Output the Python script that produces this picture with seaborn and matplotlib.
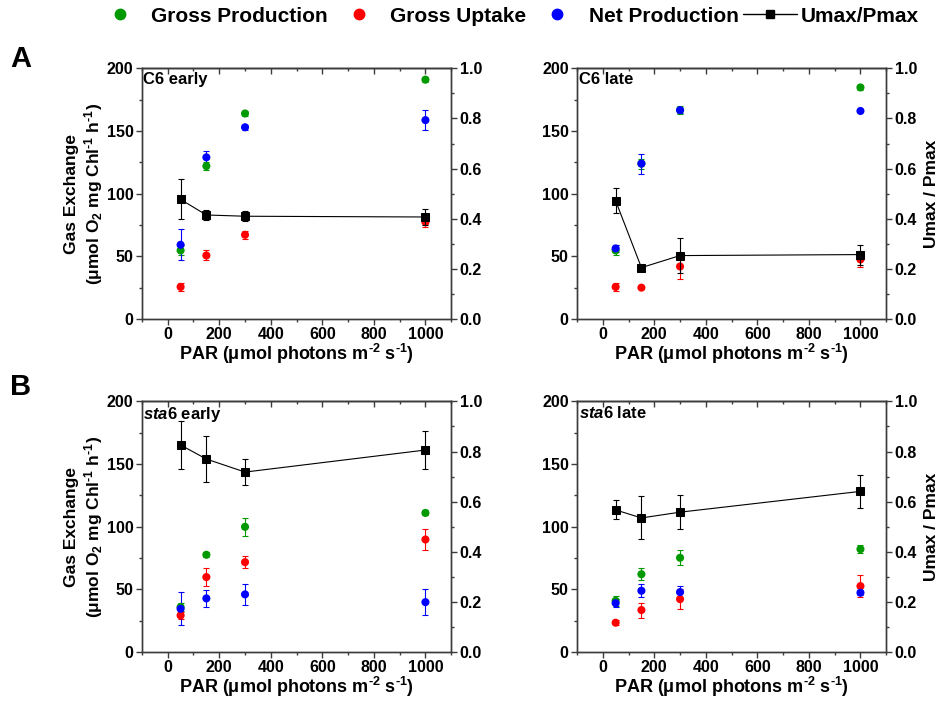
import matplotlib
matplotlib.use("Agg")
import matplotlib.pyplot as plt
from matplotlib.lines import Line2D
from matplotlib.ticker import MultipleLocator
import pandas as pd
import seaborn as sns

# Light intensities (µmol photons m-2 s-1)
PAR = [50, 150, 300, 1000]

# C6, early phase
c6_early_gross_prod = [54.7, 122.0, 164.0, 191.0]
c6_early_gross_prod_err = [4.0, 3.0, 2.0, 2.0]
c6_early_gross_upt = [25.6, 50.7, 67.2, 77.3]
c6_early_gross_upt_err = [3.0, 4.0, 3.0, 4.0]
c6_early_net_prod = [59.2, 129.0, 153.0, 158.7]
c6_early_net_prod_err = [12.5, 5.0, 2.0, 8.0]
c6_early_ratio = [0.477, 0.415, 0.410, 0.407]
c6_early_ratio_err = [0.08, 0.02, 0.02, 0.03]

# C6, late phase
c6_late_gross_prod = [54.7, 124.0, 166.7, 184.8]
c6_late_gross_prod_err = [4.0, 4.0, 3.0, 2.0]
c6_late_gross_upt = [25.6, 25.0, 41.9, 47.5]
c6_late_gross_upt_err = [3.0, 1.0, 10.0, 6.0]
c6_late_net_prod = [56.3, 124.0, 166.7, 166.0]
c6_late_net_prod_err = [3.0, 8.0, 2.0, 1.0]
c6_late_ratio = [0.472, 0.205, 0.253, 0.257]
c6_late_ratio_err = [0.05, 0.01, 0.07, 0.04]

# sta6, early phase
sta6_early_gross_prod = [35.9, 77.6, 99.9, 111.0]
sta6_early_gross_prod_err = [3.0, 2.0, 7.0, 2.0]
sta6_early_gross_upt = [29.2, 59.8, 71.7, 89.8]
sta6_early_gross_upt_err = [3.0, 7.0, 5.0, 8.0]
sta6_early_net_prod = [34.5, 42.8, 46.0, 39.8]
sta6_early_net_prod_err = [13.0, 7.0, 8.5, 10.5]
sta6_early_ratio = [0.826, 0.770, 0.718, 0.806]
sta6_early_ratio_err = [0.094, 0.092, 0.052, 0.074]

# sta6, late phase
sta6_late_gross_prod = [40.9, 62.1, 75.2, 82.1]
sta6_late_gross_prod_err = [4.0, 5.0, 6.0, 3.0]
sta6_late_gross_upt = [23.4, 33.5, 42.2, 52.6]
sta6_late_gross_upt_err = [2.0, 6.0, 8.0, 8.5]
sta6_late_net_prod = [39.0, 48.9, 47.8, 47.3]
sta6_late_net_prod_err = [3.0, 5.0, 5.0, 2.0]
sta6_late_ratio = [0.567, 0.535, 0.558, 0.641]
sta6_late_ratio_err = [0.038, 0.086, 0.068, 0.066]

SERIES = ["Gross Production", "Gross Uptake", "Net Production"]
COLORS = {"Gross Production": "#009a00", "Gross Uptake": "#ff0000",
          "Net Production": "#0000ff"}
RATIO_LABEL = "Umax/Pmax"

panels = [
    dict(title="C6 early",
         series=[(c6_early_gross_prod, c6_early_gross_prod_err),
                 (c6_early_gross_upt, c6_early_gross_upt_err),
                 (c6_early_net_prod, c6_early_net_prod_err)],
         ratio=(c6_early_ratio, c6_early_ratio_err)),
    dict(title="C6 late",
         series=[(c6_late_gross_prod, c6_late_gross_prod_err),
                 (c6_late_gross_upt, c6_late_gross_upt_err),
                 (c6_late_net_prod, c6_late_net_prod_err)],
         ratio=(c6_late_ratio, c6_late_ratio_err)),
    dict(title=r"$\mathit{sta6}$ early",
         series=[(sta6_early_gross_prod, sta6_early_gross_prod_err),
                 (sta6_early_gross_upt, sta6_early_gross_upt_err),
                 (sta6_early_net_prod, sta6_early_net_prod_err)],
         ratio=(sta6_early_ratio, sta6_early_ratio_err)),
    dict(title=r"$\mathit{sta6}$ late",
         series=[(sta6_late_gross_prod, sta6_late_gross_prod_err),
                 (sta6_late_gross_upt, sta6_late_gross_upt_err),
                 (sta6_late_net_prod, sta6_late_net_prod_err)],
         ratio=(sta6_late_ratio, sta6_late_ratio_err)),
]

sns.set_theme(style="ticks")
plt.rcParams.update({
    "font.family": ["Liberation Sans", "DejaVu Sans"],
    "font.weight": "bold",
    "axes.labelweight": "bold",
    "mathtext.fontset": "custom",
    "mathtext.rm": "Liberation Sans:bold",
    "mathtext.it": "Liberation Sans:bold:italic",
    "mathtext.bf": "Liberation Sans:bold",
    "mathtext.default": "rm",
    "axes.edgecolor": "#3c3c3c",
    "axes.linewidth": 1.0,
    "xtick.color": "#3c3c3c",
    "ytick.color": "#3c3c3c",
    "xtick.labelcolor": "black",
    "ytick.labelcolor": "black",
    "text.color": "black",
    "axes.labelcolor": "black",
})

fig = plt.figure(figsize=(9.4, 7.02), dpi=100)

W = 0.329
H = 0.357
positions = [
    (0.151, 0.5456), (0.6138, 0.5456),
    (0.151, 0.0712), (0.6138, 0.0712),
]

TICK_FS = 11.5
LABEL_FS = 13
TITLE_FS = 12

for idx, (panel, (left, bottom)) in enumerate(zip(panels, positions)):
    ax = fig.add_axes([left, bottom, W, H])
    ax2 = ax.twinx()

    # long-form table of the three gas-exchange series
    rows = []
    for name, (vals, errs) in zip(SERIES, panel["series"]):
        for p, v, e in zip(PAR, vals, errs):
            rows.append(dict(PAR=p, value=v, err=e, series=name))
    df = pd.DataFrame(rows)

    for name in SERIES:
        sub = df[df["series"] == name]
        ax.errorbar(sub["PAR"], sub["value"], yerr=sub["err"], fmt="none",
                    ecolor=COLORS[name], elinewidth=0.8, capsize=2.5,
                    capthick=0.8, zorder=2)
    sns.scatterplot(data=df, x="PAR", y="value", hue="series",
                    hue_order=SERIES, palette=COLORS, s=34,
                    edgecolor="none", legend=False, ax=ax, zorder=3)

    # Umax / Pmax on the secondary axis
    ratio, ratio_err = panel["ratio"]
    ax2.errorbar(PAR, ratio, yerr=ratio_err, fmt="none", ecolor="black",
                 elinewidth=0.8, capsize=2.5, capthick=0.8, zorder=2)
    sns.lineplot(x=PAR, y=ratio, ax=ax2, color="black", lw=0.8,
                 marker="s", markersize=5.2, markeredgecolor="black",
                 zorder=3)

    ax.set_xlim(-100, 1100)
    ax.set_ylim(0, 200)
    ax2.set_ylim(0, 1.0)
    ax.xaxis.set_major_locator(MultipleLocator(200))
    ax.xaxis.set_minor_locator(MultipleLocator(100))
    ax.yaxis.set_major_locator(MultipleLocator(50))
    ax.yaxis.set_minor_locator(MultipleLocator(25))
    ax2.yaxis.set_major_locator(MultipleLocator(0.2))
    ax2.yaxis.set_minor_locator(MultipleLocator(0.1))
    ax2.yaxis.set_major_formatter(plt.FormatStrFormatter("%.1f"))

    for a in (ax, ax2):
        a.tick_params(which="major", direction="out", length=4, width=1,
                      labelsize=TICK_FS, pad=2)
        a.tick_params(which="minor", direction="out", length=2.5, width=1)
    ax.tick_params(axis="y", which="both", right=False)
    ax2.tick_params(axis="y", which="both", left=False)
    for s in ("top", "right", "left", "bottom"):
        ax.spines[s].set_visible(True)
        ax2.spines[s].set_visible(True)

    top = ax.secondary_xaxis("top")
    top.xaxis.set_major_locator(MultipleLocator(200))
    top.xaxis.set_minor_locator(MultipleLocator(100))
    top.tick_params(which="major", direction="in", length=4, width=1,
                    labeltop=False)
    top.tick_params(which="minor", direction="in", length=2.5, width=1)
    top.spines["top"].set_color("#3c3c3c")

    for lbl in ax.get_xticklabels() + ax.get_yticklabels() + ax2.get_yticklabels():
        lbl.set_fontweight("bold")

    ax.set_xlabel(r"PAR ($\mu$mol photons m$^{\text{-}2}$ s$^{\text{-}1}$)",
                  fontsize=LABEL_FS, labelpad=0)
    if idx % 2 == 0:
        ax.set_ylabel("Gas Exchange\n"
                      r"($\mu$mol O$_2$ mg Chl$^{\text{-}1}$ h$^{\text{-}1}$)",
                      fontsize=LABEL_FS - 0.5, labelpad=1, linespacing=1.2)
        ax2.set_ylabel("")
    else:
        ax.set_ylabel("")
        ax2.set_ylabel("Umax / Pmax", fontsize=LABEL_FS - 0.5, labelpad=5)

    ax.text(0.005, 0.985, panel["title"], transform=ax.transAxes,
            ha="left", va="top", fontsize=TITLE_FS, fontweight="bold")

fig.text(0.011, 0.905, "A", fontsize=21, fontweight="bold", va="baseline")
fig.text(0.011, 0.438, "B", fontsize=21, fontweight="bold", va="baseline")

handles = [Line2D([], [], marker="o", linestyle="none", color=COLORS[n],
                  markersize=7.5, label=n) for n in SERIES]
handles.append(Line2D([], [], marker="s", linestyle="-", color="black",
                      lw=1.0, markersize=6, label=RATIO_LABEL))
fig.legend(handles=handles, loc="center", bbox_to_anchor=(0.538, 0.977),
           ncol=4, frameon=False, fontsize=15, handlelength=2.6,
           handletextpad=0.2, columnspacing=0.2, borderaxespad=0,
           borderpad=0)

fig.savefig("out.png", dpi=100)
